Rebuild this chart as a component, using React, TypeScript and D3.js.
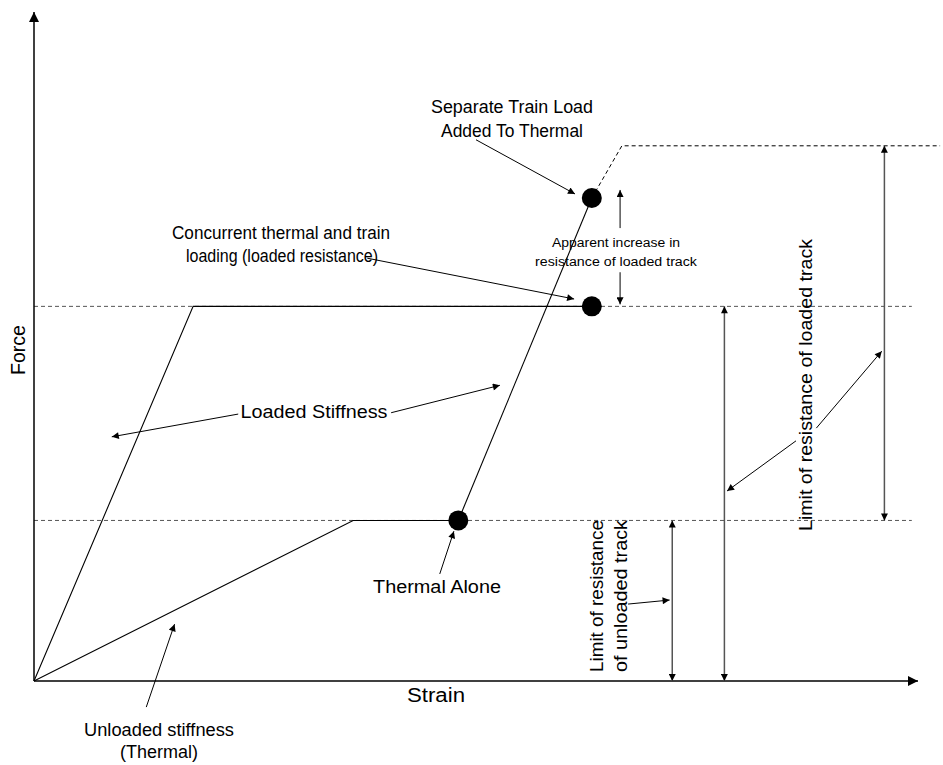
import React from "react";
import * as d3 from "d3";

// curve data (strain, force) in arbitrary units
const loadedStrain = [0, 18, 63.1];
const loadedForce = [0, 56, 56];
const unloadedStrain = [0, 36.1, 48];
const unloadedForce = [0, 24, 24];
const reloadStrain = [48, 63.1];
const reloadForce = [24, 72.2];
const addedStrain = [63.1, 66.5, 102.5];
const addedForce = [72.2, 80, 80];

const resistanceLevels = [24, 56];
const levelEnd = 99.3;

const pointStrain = [48, 63.1, 63.1];
const pointForce = [24, 56, 72.2];

// dimension arrows: strain position, force from / to
const dimStrain = [72.2, 78.1, 96.2];
const dimFrom = [0, 0, 24];
const dimTo = [24, 56, 80];

// leader arrows [x0, y0, x1, y1]
const leaders = [
  [50.0, 80.9, 61.2, 72.8],
  [37.7, 63.2, 61.1, 57.1],
  [23.1, 39.9, 8.8, 36.5],
  [40.4, 40.1, 52.7, 44.2],
  [45.9, 16.0, 47.5, 22.4],
  [12.7, -3.9, 15.9, 8.5],
  [67.2, 11.5, 71.9, 12.1],
  [86.2, 35.9, 78.4, 28.4],
  [88.5, 37.8, 95.9, 49.3],
];

const W = 943;
const H = 765;
const font = "'Liberation Sans', Arial, sans-serif";
const narrow = "'Liberation Sans Narrow', 'Arial Narrow', 'Liberation Sans', sans-serif";

const App = () => {
  const x = d3.scaleLinear().domain([0, 100]).range([34, 918]);
  const y = d3.scaleLinear().domain([0, 100]).range([681, 12]);

  const path = (xs: number[], ys: number[]) =>
    d3
      .line<number>()
      .x((d) => x(d))
      .y((d, i) => y(ys[i]))(xs) || "";

  const grey = "#555";

  const label = (
    t: string,
    cx: number,
    cy: number,
    len: number,
    size = 17.5,
    fam = font,
    rot = 0
  ) => (
    <text
      key={t}
      x={cx}
      y={cy}
      textAnchor="middle"
      fontFamily={fam}
      fontSize={size}
      textLength={len}
      lengthAdjust="spacingAndGlyphs"
      transform={rot ? `rotate(${rot},${cx},${cy})` : undefined}
      fill="#000"
    >
      {t}
    </text>
  );

  // apparent increase arrow, broken around its label
  const appX = x(66.3);
  const appTop = y(73.4);
  const appBot = y(56.3);
  const gapTop = y(67.7);
  const gapBot = y(61.1);

  return (
    <svg
      width={W}
      height={H}
      style={{ position: "absolute", left: 0, top: 0, background: "#fff" }}
    >
      <defs>
        <marker id="ah" viewBox="0 0 10 10" refX="10" refY="5" markerWidth="9" markerHeight="7" markerUnits="userSpaceOnUse" orient="auto-start-reverse">
          <path d="M0,0 L10,5 L0,10 z" fill="#000" />
        </marker>
        <marker id="axh" viewBox="0 0 10 10" refX="10" refY="5" markerWidth="14" markerHeight="10" markerUnits="userSpaceOnUse" orient="auto">
          <path d="M0,0 L10,5 L0,10 z" fill="#000" />
        </marker>
      </defs>

      {/* resistance levels */}
      {resistanceLevels.map((f) => (
        <line key={f} x1={x(0)} x2={x(levelEnd)} y1={y(f)} y2={y(f)} stroke={grey} strokeWidth={1} strokeDasharray="4,3" />
      ))}

      {/* separate train load added (dashed) */}
      <path d={path(addedStrain, addedForce)} fill="none" stroke="#000" strokeWidth={1} strokeDasharray="4,3" />

      {/* curves */}
      <path d={path(loadedStrain, loadedForce)} fill="none" stroke="#000" strokeWidth={1.1} />
      <path d={path(unloadedStrain, unloadedForce)} fill="none" stroke="#000" strokeWidth={1.1} />
      <path d={path(reloadStrain, reloadForce)} fill="none" stroke="#000" strokeWidth={1.1} />

      {/* axes */}
      <line x1={x(0)} y1={y(0)} x2={x(100)} y2={y(0)} stroke="#000" strokeWidth={1.5} markerEnd="url(#axh)" />
      <line x1={x(0)} y1={y(0)} x2={x(0)} y2={y(100)} stroke="#000" strokeWidth={1.5} markerEnd="url(#axh)" />

      {/* points */}
      {pointStrain.map((s, i) => (
        <circle key={i} cx={x(s)} cy={y(pointForce[i])} r={10} fill="#000" />
      ))}

      {/* dimension arrows */}
      {dimStrain.map((s, i) => (
        <line key={i} x1={x(s)} x2={x(s)} y1={y(dimFrom[i])} y2={y(dimTo[i])} stroke={grey} strokeWidth={1.5} markerStart="url(#ah)" markerEnd="url(#ah)" />
      ))}
      <line x1={appX} x2={appX} y1={gapTop} y2={appTop} stroke="#000" strokeWidth={1} markerEnd="url(#ah)" />
      <line x1={appX} x2={appX} y1={gapBot} y2={appBot} stroke="#000" strokeWidth={1} markerEnd="url(#ah)" />

      {/* leaders */}
      {leaders.map((d, i) => (
        <line key={i} x1={x(d[0])} y1={y(d[1])} x2={x(d[2])} y2={y(d[3])} stroke="#000" strokeWidth={1} markerEnd="url(#ah)" />
      ))}

      {/* labels */}
      {label("Separate Train Load", 512, 113, 162)}
      {label("Added To Thermal", 512, 137, 142)}
      {label("Concurrent thermal and train", 281, 239, 218)}
      {label("loading (loaded resistance)", 282, 262, 192)}
      {label("Apparent increase in", 616, 247, 128, 12.5, narrow)}
      {label("resistance of loaded track", 616, 266, 162, 12.5, narrow)}
      {label("Loaded Stiffness", 314, 418, 147)}
      {label("Thermal Alone", 437, 593, 128)}
      {label("Unloaded stiffness", 159, 736, 150)}
      {label("(Thermal)", 159, 758, 78)}
      {label("Strain", 436, 702, 58, 19.5)}
      {label("Force", 25, 350, 50, 20, font, -90)}
      {label("Limit of resistance", 603, 596, 152, 17.5, font, -90)}
      {label("of unloaded track", 627, 596, 152, 17.5, font, -90)}
      {label("Limit of resistance of loaded track", 812, 385, 292, 17.5, font, -90)}
    </svg>
  );
};

export default App;
